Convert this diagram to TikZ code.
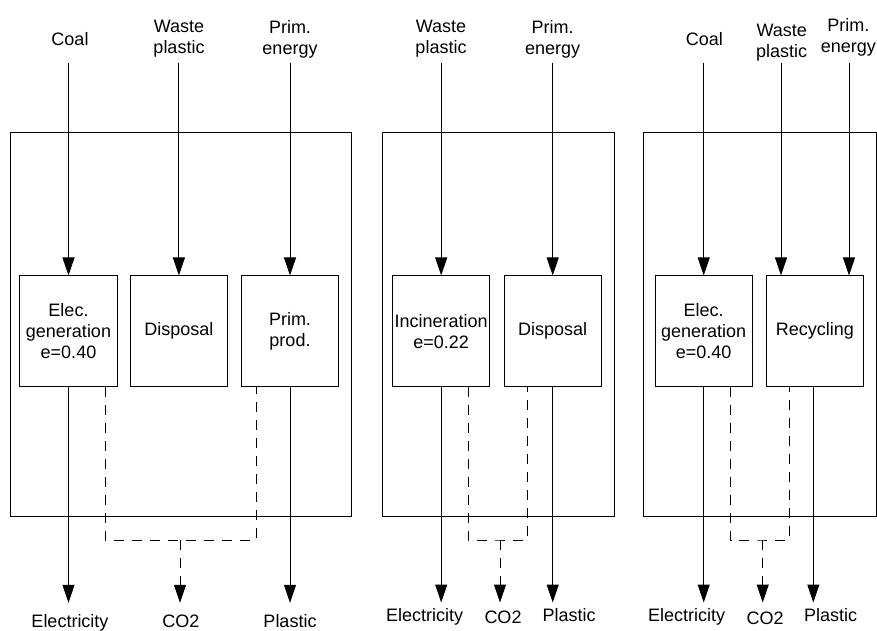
\documentclass[tikz,border=0pt]{standalone}
\usepackage{fontspec}
\setmainfont{Liberation Sans}
\usetikzlibrary{arrows.meta}
\begin{document}
\begin{tikzpicture}[x=0.75pt,y=-0.75pt,
  every node/.style={font=\fontsize{13.5}{15.75}\selectfont},
  procbox/.style={draw, line width=0.75pt, minimum width=73pt, minimum height=83pt, inner sep=0pt, align=center},
  lbl/.style={inner sep=0pt, align=center},
  flow/.style={line width=0.75pt, -{Triangle[length=13.5pt,width=9pt]}},
  emis/.style={line width=0.75pt, dash pattern=on 7.5pt off 6pt},
  emisarr/.style={emis, -{Triangle[length=13.5pt,width=9pt]}},
  frame/.style={draw, line width=0.75pt}]
\useasboundingbox (0,0) rectangle (877,631);

% ---------------- Panel 1 ----------------
\draw[frame] (10,133) rectangle (351.7,516.7);
\node[procbox] (gen1) at (68.5,331.3) {Elec.\\generation\\e=0.40};
\node[procbox] (disp1) at (178.9,331.3) {Disposal};
\node[procbox] (prim1) at (290,331.3) {Prim.\\prod.};

\node[lbl, anchor=base] (coal1) at (70,46) {Coal};
\node[lbl] (waste1) at (179,39) {Waste\\plastic};
\node[lbl] (pen1) at (290,39) {Prim.\\energy};
\coordinate (c1) at (68.5,62.7);
\coordinate (w1) at (178.9,62.7);
\coordinate (p1) at (290,62.7);
\draw[flow] (c1) -- (gen1.north);
\draw[flow] (w1) -- (disp1.north);
\draw[flow] (p1) -- (prim1.north);

\node[lbl, anchor=base] (el1) at (70,627) {Electricity};
\node[lbl, anchor=base] (co1) at (180.8,627.5) {CO2};
\node[lbl, anchor=base] (pl1) at (290,627) {Plastic};
\coordinate (eo1) at (68.5,602.8);
\coordinate (po1) at (290,602.8);
\coordinate (ko1) at (180,602.8);
\draw[flow] (gen1.south) -- (eo1);
\draw[flow] (prim1.south) -- (po1);
\coordinate (da1) at (105,386.7);
\coordinate (db1) at (256,386.7);
\coordinate (j1) at (180,540);
\draw[emis] (da1) |- (j1) -| (db1);
\draw[emisarr] (j1) -- (ko1);

% ---------------- Panel 2 ----------------
\draw[frame] (382.3,133) rectangle (614.3,516.7);
\node[procbox] (inc2) at (441.2,331.3) {Incineration\\e=0.22};
\node[procbox] (disp2) at (552.7,331.3) {Disposal};

\node[lbl] (waste2) at (441,39) {Waste\\plastic};
\node[lbl] (pen2) at (552.7,39) {Prim.\\energy};
\coordinate (w2) at (441.2,62.7);
\coordinate (p2) at (552.7,62.7);
\draw[flow] (w2) -- (inc2.north);
\draw[flow] (p2) -- (disp2.north);

\node[lbl, anchor=base] (el2) at (424.5,621) {Electricity};
\node[lbl, anchor=base] (co2) at (503,623.3) {CO2};
\node[lbl, anchor=base] (pl2) at (569,621) {Plastic};
\coordinate (eo2) at (441.2,602.5);
\coordinate (po2) at (552.7,602.5);
\coordinate (ko2) at (500,602.5);
\draw[flow] (inc2.south) -- (eo2);
\draw[flow] (disp2.south) -- (po2);
\coordinate (da2) at (468.3,386.7);
\coordinate (db2) at (527,386.7);
\coordinate (j2) at (500,540);
\draw[emis] (da2) |- (j2) -| (db2);
\draw[emisarr] (j2) -- (ko2);

% ---------------- Panel 3 ----------------
\draw[frame] (643.3,133) rectangle (876.3,516.7);
\node[procbox] (gen3) at (703.7,331.3) {Elec.\\generation\\e=0.40};
\node[procbox] (rec3) at (814.8,331.3) {Recycling};

\node[lbl, anchor=base] (coal3) at (704.3,46) {Coal};
\node[lbl] (waste3) at (781.7,42.5) {Waste\\plastic};
\node[lbl] (pen3) at (848.3,37.5) {Prim.\\energy};
\coordinate (c3) at (703.7,62.7);
\coordinate (w3) at (781,62.7);
\coordinate (p3) at (849,62.7);
\draw[flow] (c3) -- (gen3.north);
\draw[flow] (w3) -- (w3 |- rec3.north);
\draw[flow] (p3) -- (p3 |- rec3.north);

\node[lbl, anchor=base] (el3) at (686.7,621.7) {Electricity};
\node[lbl, anchor=base] (co3) at (765,624) {CO2};
\node[lbl, anchor=base] (pl3) at (830.5,621.7) {Plastic};
\coordinate (eo3) at (703.7,602.5);
\coordinate (po3) at (813.3,602.5);
\coordinate (ko3) at (762.7,602.5);
\draw[flow] (gen3.south) -- (eo3);
\draw[flow] (po3 |- rec3.south) -- (po3);
\coordinate (da3) at (730.7,386.7);
\coordinate (db3) at (789.3,386.7);
\coordinate (j3) at (762.7,540);
\draw[emis] (da3) |- (j3) -| (db3);
\draw[emisarr] (j3) -- (ko3);
\end{tikzpicture}
\end{document}
